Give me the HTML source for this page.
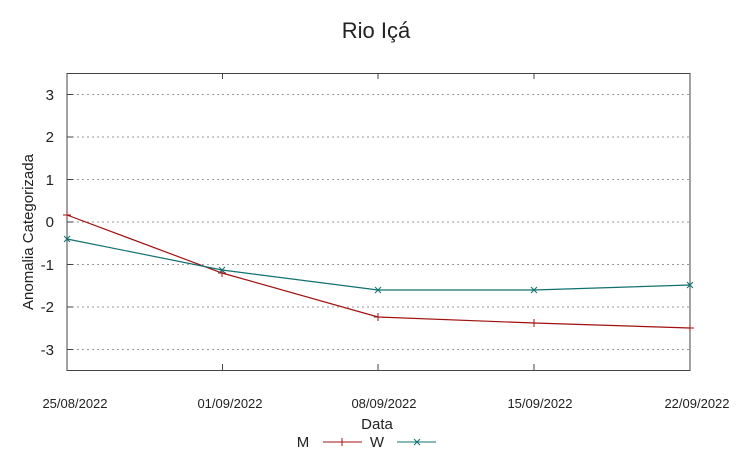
<!DOCTYPE html>
<html><head><meta charset="utf-8"><style>body{margin:0;background:#fff}svg{display:block}text{font-family:"Liberation Sans",sans-serif;fill:#222}</style></head>
<body>
<svg width="752" height="459" viewBox="0 0 752 459">
<text x="376" y="38" font-size="22" text-anchor="middle">Rio Içá</text>
<g stroke="#999" stroke-width="1" stroke-dasharray="2,3">
<line x1="67" x2="690" y1="94.5" y2="94.5"/><line x1="67" x2="690" y1="137" y2="137"/><line x1="67" x2="690" y1="179.5" y2="179.5"/><line x1="67" x2="690" y1="222" y2="222"/><line x1="67" x2="690" y1="264.5" y2="264.5"/><line x1="67" x2="690" y1="307" y2="307"/><line x1="67" x2="690" y1="349.5" y2="349.5"/>
</g>
<rect x="67" y="73.5" width="623" height="297" fill="none" stroke="#444" stroke-width="1"/>
<g stroke="#444">
<line x1="67" x2="73" y1="94.5" y2="94.5"/><line x1="67" x2="73" y1="137" y2="137"/><line x1="67" x2="73" y1="179.5" y2="179.5"/><line x1="67" x2="73" y1="222" y2="222"/><line x1="67" x2="73" y1="264.5" y2="264.5"/><line x1="67" x2="73" y1="307" y2="307"/><line x1="67" x2="73" y1="349.5" y2="349.5"/>
<line x1="222.5" x2="222.5" y1="73" y2="79"/><line x1="378" x2="378" y1="73" y2="79"/><line x1="534" x2="534" y1="73" y2="79"/>
<line x1="222.5" x2="222.5" y1="370" y2="364"/><line x1="378" x2="378" y1="370" y2="364"/><line x1="534" x2="534" y1="370" y2="364"/>
</g>
<g font-size="15" text-anchor="end">
<text x="54" y="100">3</text><text x="54" y="142">2</text><text x="54" y="185">1</text><text x="54" y="227">0</text><text x="54" y="270">-1</text><text x="54" y="312">-2</text><text x="54" y="355">-3</text>
</g>
<g font-size="13" text-anchor="middle">
<text x="75" y="408">25/08/2022</text><text x="230" y="408">01/09/2022</text><text x="384" y="408">08/09/2022</text><text x="540" y="408">15/09/2022</text><text x="697" y="408">22/09/2022</text>
<text x="377" y="429" font-size="15">Data</text>
</g>
<text transform="translate(33,232) rotate(-90)" font-size="15" text-anchor="middle">Anomalia Categorizada</text>
<polyline points="67,215 222,273 378,317 534,323 690,328" fill="none" stroke="#a01010" stroke-width="1.2"/>
<g stroke="#a01010"><path d="M63,215h8M67,211v8M218,273h8M222,269v8M374,317h8M378,313v8M530,323h8M534,319v8M686,328h8M690,324v8"/></g>
<polyline points="67,239 222,270 378,290 534,290 690,285" fill="none" stroke="#107070" stroke-width="1.2"/>
<g stroke="#107070"><path d="M64,236l6,6M64,242l6,-6M219,267l6,6M219,273l6,-6M375,287l6,6M375,293l6,-6M531,287l6,6M531,293l6,-6M687,282l6,6M687,288l6,-6"/></g>
<text x="303" y="447" font-size="15" text-anchor="middle">M</text>
<line x1="323" x2="362" y1="442" y2="442" stroke="#a01010"/><path d="M342,438v8" stroke="#a01010"/>
<text x="377" y="447" font-size="15" text-anchor="middle">W</text>
<line x1="397" x2="436" y1="442" y2="442" stroke="#107070"/><path d="M414,439l6,6M414,445l6,-6" stroke="#107070"/>
</svg>
</body></html>
